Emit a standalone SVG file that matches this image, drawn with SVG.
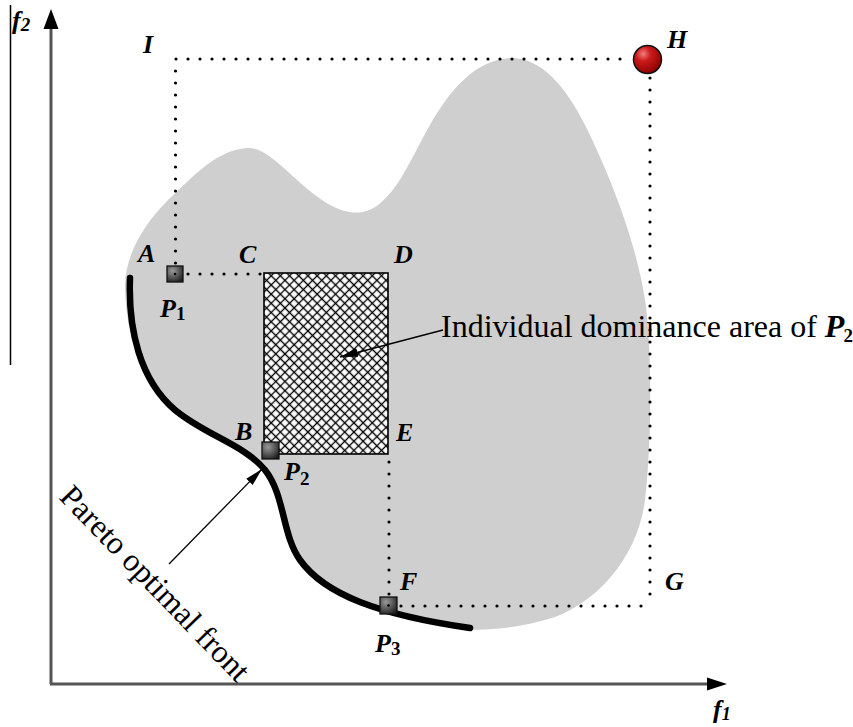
<svg xmlns="http://www.w3.org/2000/svg" width="853" height="727" viewBox="0 0 853 727">
<style>
.lbl{font-family:"Liberation Serif","Times New Roman",serif;font-weight:bold;font-style:italic;font-size:26px;fill:#000}
.sub{font-style:normal;font-size:19px}
.txt{font-family:"Liberation Serif","Times New Roman",serif;font-size:32px;fill:#000}
.dot{fill:none;stroke:#000;stroke-width:3.2;stroke-linecap:round;stroke-dasharray:0 12}
.axis{fill:none;stroke:#555;stroke-width:3}
.sq{fill:url(#sqg);stroke:#111;stroke-width:1.3}
</style>
<defs>
<pattern id="hatch" width="6.5" height="6.5" patternUnits="userSpaceOnUse" patternTransform="rotate(45)">
<rect width="6.5" height="6.5" fill="#fff"/>
<path d="M0,3.25H6.5M3.25,0V6.5" stroke="#000" stroke-width="1.3"/>
</pattern>
<radialGradient id="sqg" cx="0.35" cy="0.3" r="0.8">
<stop offset="0" stop-color="#9a9a9a"/>
<stop offset="1" stop-color="#1c1c1c"/>
</radialGradient>
<radialGradient id="hg" cx="0.35" cy="0.3" r="0.75">
<stop offset="0" stop-color="#f08080"/>
<stop offset="0.35" stop-color="#cc1a1a"/>
<stop offset="1" stop-color="#8a0000"/>
</radialGradient>
<marker id="ah" viewBox="0 0 18 9" refX="18" refY="4.5" markerWidth="18" markerHeight="9" markerUnits="userSpaceOnUse" orient="auto">
<path d="M0,0L18,4.5L0,9z" fill="#000"/>
</marker>
</defs>
<rect width="853" height="727" fill="#fff"/>
<line x1="10.5" y1="5" x2="10.5" y2="365" stroke="#000" stroke-width="1.5"/>
<g id="region">
<path fill="#cfcfcf" d="M125,285 C126,252 146,222 168,200 C190,180 215,150 247,148 C270,146 295,185 330,205 C345,213 362,217 378,205 C400,188 410,160 430,125 C450,90 475,60 510,58 C540,57 565,85 585,125 C605,165 635,235 645,300 C652,345 652,440 645,500 C638,555 600,600 555,617 C525,627 495,630 470,630 C380,617 325,597 300,561 C282,535 285,495 265,470 C245,445 205,435 175,410 C140,380 125,330 125,285 Z"/>
</g>
<g id="dominance-area">
<rect x="264" y="273" width="124" height="181" fill="url(#hatch)" stroke="#000" stroke-width="1.6"/>
</g>
<g id="connectors">
<line class="axis" x1="51" y1="684" x2="51" y2="28"/>
<polygon points="51,9 43.5,29 58.5,29" fill="#000"/>
<line class="axis" x1="50" y1="684" x2="710" y2="684"/>
<polygon points="727,684 707,677.5 707,690.5" fill="#000"/>
<line class="dot" x1="176" y1="59" x2="632" y2="59"/>
<line class="dot" x1="175.5" y1="71" x2="175.5" y2="264"/>
<line class="dot" x1="188" y1="274" x2="262" y2="274"/>
<line class="dot" x1="650" y1="78" x2="650" y2="606"/>
<line class="dot" x1="401" y1="606" x2="650" y2="606"/>
<line class="dot" x1="389" y1="462" x2="389" y2="596"/>
<line x1="443" y1="330" x2="340" y2="357" stroke="#000" stroke-width="1.3" marker-end="url(#ah)"/>
<line x1="169" y1="564" x2="262" y2="469" stroke="#000" stroke-width="1.3" marker-end="url(#ah)"/>
</g>
<g id="pareto-front">
<path d="M130,278 C128,330 140,380 175,410 C205,435 245,445 265,470 C285,495 282,535 300,560 C325,595 380,615 470,628" fill="none" stroke="#000" stroke-width="6.5" stroke-linecap="round"/>
</g>
<g id="P1"><rect class="sq" x="167" y="266" width="16" height="16"/><circle cx="175" cy="274" r="1.3" fill="#000"/></g>
<g id="P2"><rect class="sq" x="262" y="442" width="17" height="17"/></g>
<g id="P3"><rect class="sq" x="380" y="597" width="17" height="17"/><circle cx="388.5" cy="605.5" r="1.3" fill="#000"/></g>
<g id="H"><circle cx="647.5" cy="59.5" r="14" fill="url(#hg)" stroke="#111" stroke-width="1.5"/></g>
<g id="labels">
<text class="lbl" x="143" y="53">I</text>
<text class="lbl" x="667" y="48">H</text>
<text class="lbl" x="138" y="262">A</text>
<text class="lbl" x="239" y="263">C</text>
<text class="lbl" x="394" y="263">D</text>
<text class="lbl" x="235" y="440">B</text>
<text class="lbl" x="396" y="441">E</text>
<text class="lbl" x="400" y="590">F</text>
<text class="lbl" x="665" y="590">G</text>
<text class="lbl" x="160" y="317">P<tspan class="sub" dy="3">1</tspan></text>
<text class="lbl" x="284" y="480">P<tspan class="sub" dy="5">2</tspan></text>
<text class="lbl" x="375" y="652">P<tspan class="sub" dy="3">3</tspan></text>
<text class="lbl" x="12" y="29" font-size="27">f<tspan font-size="19" dy="2">2</tspan></text>
<text class="lbl" x="713" y="718" font-size="27">f<tspan font-size="18" dy="2">1</tspan></text>
<text class="txt" x="441" y="337">Individual dominance area of <tspan font-weight="bold" font-style="italic">P</tspan><tspan font-weight="bold" font-size="19" dy="5" dx="-1">2</tspan></text>
<text class="txt" transform="translate(58,498) rotate(46)">Pareto optimal front</text>
</g>
</svg>
